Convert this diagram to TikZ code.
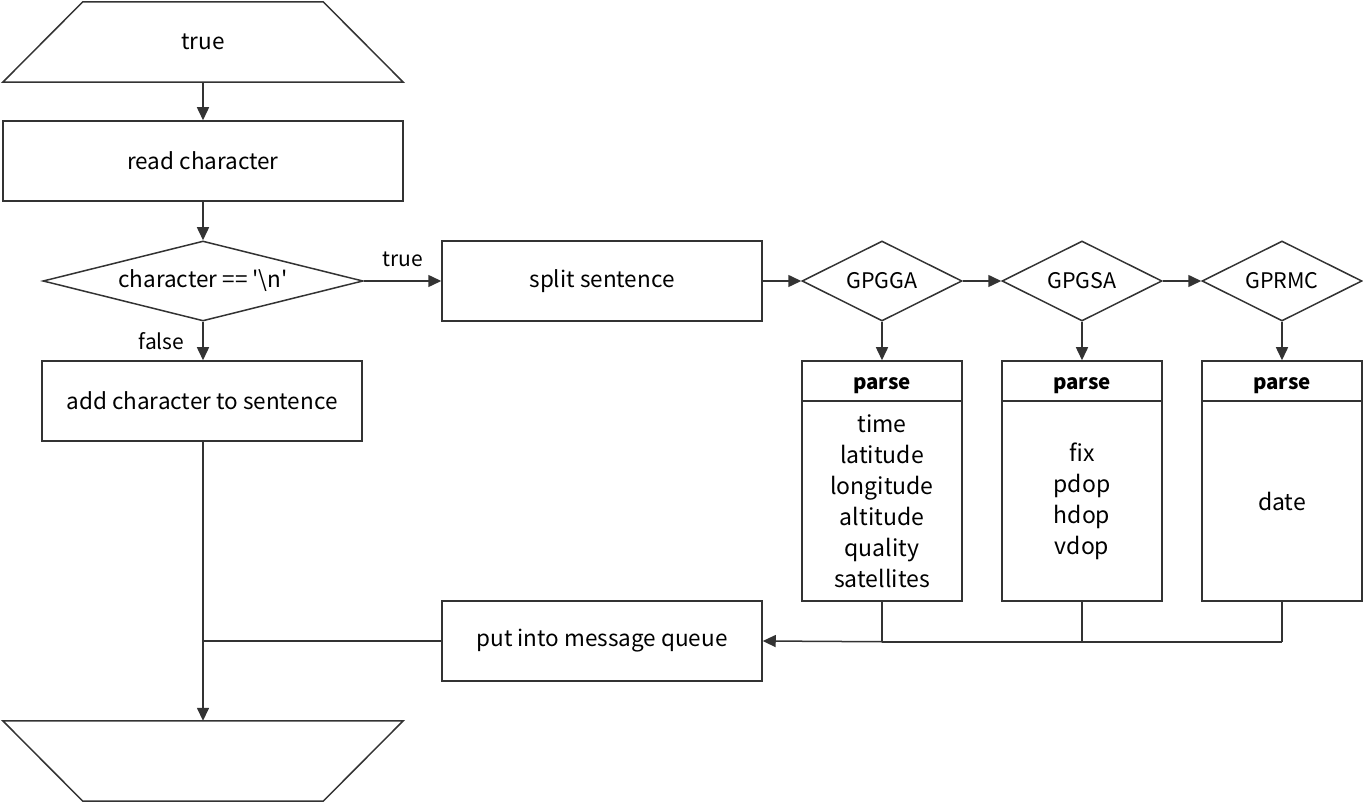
\documentclass[tikz,border=0pt]{standalone}
\usepackage{fontspec}
\setmainfont{Noto Sans CJK SC}
\newfontfamily\rawfont{Noto Sans CJK SC}
\usetikzlibrary{shapes.geometric,arrows.meta,calc}
\definecolor{ln}{HTML}{333333}
\tikzset{
  txt/.style={font=\fontsize{22.5}{26}\selectfont},
  box/.style={draw=ln, line width=1.5pt, rectangle, minimum width=320pt, minimum height=80pt, inner sep=0pt, txt},
  dec/.style={draw=ln, line width=1.5pt, diamond, aspect=4, minimum width=320pt, minimum height=80pt, inner sep=0pt, txt},
  sdec/.style={draw=ln, line width=1.5pt, diamond, aspect=2, minimum width=160pt, minimum height=80pt, inner sep=0pt, font=\fontsize{21.5}{26}\selectfont},
  phead/.style={draw=ln, line width=1.5pt, rectangle, minimum width=160pt, minimum height=40pt, inner sep=0pt, text height=19pt, text depth=2pt, font=\bfseries\fontsize{20.5}{24}\selectfont},
  pbody/.style={draw=ln, line width=1.5pt, rectangle, minimum width=160pt, minimum height=200pt, inner sep=0pt, align=center, font=\fontsize{23}{31}\selectfont},
  trap/.style={draw=none, minimum width=400pt, minimum height=80pt, inner sep=0pt, txt},
  outl/.style={draw=ln, line width=1.5pt, line join=miter},
  arr/.style={draw=ln, line width=1.5pt, -{Triangle[length=13pt,width=12pt]}},
  thin/.style={draw=ln, line width=1.2pt},
  lbl/.style={font=\fontsize{21}{24}\selectfont, inner sep=0pt}
}
\begin{document}
\begin{tikzpicture}[x=1pt,y=-1pt]
\useasboundingbox (0,0) rectangle (1363,802);
% start trapezoid
\node[trap] (start) at (203,42) {true};
\draw[outl] (start.south west) -- (start.south east) -- ([xshift=-80pt]start.north east) -- ([xshift=80pt]start.north west) -- cycle;
\node[box, minimum width=400pt] (read) at (203,161) {read character};
\node[dec] (nl) at (203,281) {character == {\rawfont'}\textbackslash n{\rawfont'}};
\node[box] (add) at (202,401) {add character to sentence};
\node[box] (split) at (602,281) {split sentence};
\node[sdec] (gga) at (882,281) {GPGGA};
\node[sdec] (gsa) at (1082,281) {GPGSA};
\node[sdec] (rmc) at (1282,281) {GPRMC};
\node[phead] (h1) at (882,381) {parse};
\node[phead] (h2) at (1082,381) {parse};
\node[phead] (h3) at (1282,381) {parse};
\node[pbody] (b1) at (882,501) {time\\latitude\\longitude\\altitude\\quality\\satellites};
\node[pbody] (b2) at (1082,501) {fix\\pdop\\hdop\\vdop};
\node[pbody] (b3) at (1282,501) {date};
\node[box] (queue) at (602,641) {put into message queue};
% end trapezoid
\node[trap] (stop) at (203,761) {};
\draw[outl] (stop.north west) -- (stop.north east) -- ([xshift=-80pt]stop.south east) -- ([xshift=80pt]stop.south west) -- cycle;
% connectors
\draw[arr] (start.south) -- (read.north);
\draw[arr] (read.south) -- (nl.north);
\draw[arr] (nl.south) -- node[lbl, pos=0.5, left=18pt] {false} (nl.south |- add.north);
\draw[arr] (nl.east) -- node[lbl, above=13pt] {true} (split.west);
\draw[arr] (split.east) -- (gga.west);
\draw[arr] (gga.east) -- (gsa.west);
\draw[arr] (gsa.east) -- (rmc.west);
\draw[arr] (gga.south) -- (h1.north);
\draw[arr] (gsa.south) -- (h2.north);
\draw[arr] (rmc.south) -- (h3.north);
\draw[thin] (b1.south) -- ++(0,40) coordinate (j1);
\draw[thin] (b2.south) -- ++(0,40) coordinate (j2);
\draw[thin] (b3.south) -- ++(0,40) coordinate (j3);
\draw[ln, line width=1.5pt] (j3) -- (j2) -- (j1);
\draw[arr] (j1) -- (queue.east);
\draw[ln, line width=1.5pt] (queue.west) -- (nl.south |- queue.west);
\draw[arr] (nl.south |- add.south) -- (stop.north);
\end{tikzpicture}
\end{document}
